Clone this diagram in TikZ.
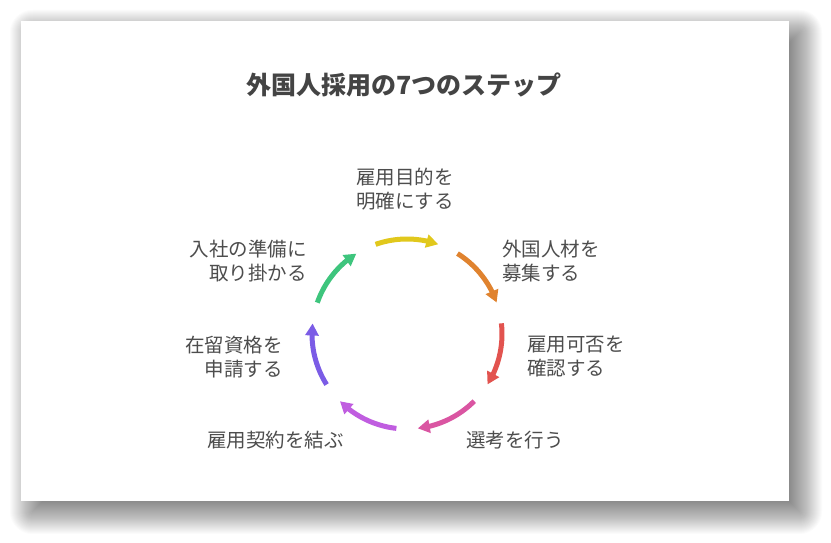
\documentclass[tikz,border=0pt]{standalone}
\usepackage{fontspec}
\setmainfont{Noto Sans CJK JP}
\usetikzlibrary{arrows.meta,bending,calc}
\definecolor{txt}{HTML}{4D4D4D}
\definecolor{ttl}{HTML}{444444}
\definecolor{cy}{HTML}{E1C81C}
\definecolor{co}{HTML}{E0832F}
\definecolor{cr}{HTML}{E2534F}
\definecolor{cp}{HTML}{DA55A2}
\definecolor{cv}{HTML}{C05DE0}
\definecolor{cb}{HTML}{7B5CE6}
\definecolor{cg}{HTML}{3EC57D}
\tikzset{
  lbl/.style={inner sep=0pt, text=txt, font=\fontsize{19.5}{24}\selectfont},
  cyc/.style={line width=5pt, -{Triangle[length=12pt,width=13pt,flex]}},
}
\begin{document}
\begin{tikzpicture}[x=1pt,y=1pt]
\useasboundingbox (0,0) rectangle (831,543);
\fill[white] (0,0) rectangle (831,543);
% soft shadow: card is (21,42)-(789,522); shadow offset (11,-11)
\foreach \r in {-20,-19,...,22}{
  \pgfmathsetmacro{\rc}{max(\r,0)+0.5}
  \fill[black, opacity=0.015, rounded corners=\rc pt]
    (32-\r,31-\r) rectangle (800+\r,511+\r);
}
\node[fill=white, minimum width=768pt, minimum height=480pt, inner sep=0pt] (card) at (405,282) {};
\node[inner sep=0pt, text=ttl, font=\fontsize{25}{28}\selectfont\bfseries] (title) at (404,458) {外国人採用の7つのステップ};
\coordinate (c) at (407,209);
\foreach \i/\col in {0/cy,1/co,2/cr,3/cp,4/cv,5/cb,6/cg}{
  \pgfmathsetmacro{\sa}{109.3-51.4286*\i}
  \pgfmathsetmacro{\ea}{\sa-38.5}
  \draw[cyc, \col] ($(c)+(\sa:95)$) arc[start angle=\sa, end angle=\ea, radius=95];
}
\node[lbl, align=center] (s1) at (405,354) {雇用目的を\\明確にする};
\node[lbl, align=left, anchor=west] (s2) at (502,281.5) {外国人材を\\募集する};
\node[lbl, align=left, anchor=west] (s3) at (527,186) {雇用可否を\\確認する};
\node[lbl, anchor=west] (s4) at (466,103) {選考を行う};
\node[lbl, anchor=east] (s5) at (344,103) {雇用契約を結ぶ};
\node[lbl, align=right, anchor=east] (s6) at (283,186) {在留資格を\\申請する};
\node[lbl, align=right, anchor=east] (s7) at (307,281.5) {入社の準備に\\取り掛かる};
\end{tikzpicture}
\end{document}
